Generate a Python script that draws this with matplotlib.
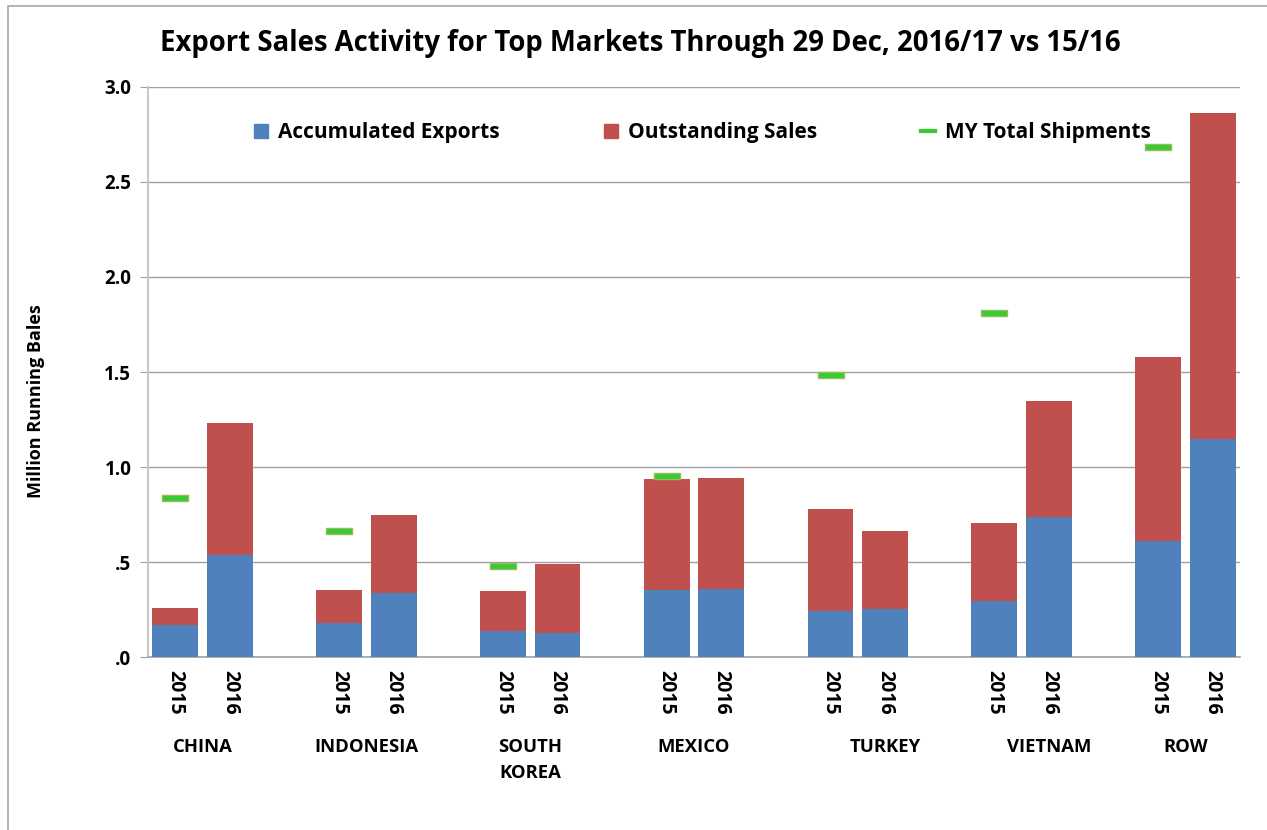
import matplotlib
matplotlib.use("Agg")
import matplotlib.pyplot as plt
import numpy as np
from matplotlib.patches import Patch, Rectangle
from matplotlib.lines import Line2D
from matplotlib.path import Path
import matplotlib.transforms as mtransforms

plt.rcParams['font.family'] = ['Open Sans', 'DejaVu Sans']
plt.rcParams['font.weight'] = 'bold'

# data (million running bales)
markets = ['CHINA', 'INDONESIA', 'SOUTH\nKOREA', 'MEXICO', 'TURKEY', 'VIETNAM', 'ROW']
years = ['2015', '2016']
exports_2015 = [0.168, 0.179, 0.137, 0.353, 0.242, 0.295, 0.611]
exports_2016 = [0.537, 0.337, 0.126, 0.358, 0.253, 0.737, 1.147]
outstanding_2015 = [0.090, 0.174, 0.210, 0.584, 0.537, 0.410, 0.968]
outstanding_2016 = [0.695, 0.410, 0.363, 0.584, 0.410, 0.610, 1.716]
my_total_2015 = [0.837, 0.663, 0.479, 0.953, 1.484, 1.811, 2.684]
# label offsets (slot units) as placed in the original
label_offset = [0.5, 0.5, 0.5, 0.5, 1.0, 1.0, 0.5]

blue = '#4F81BD'
red = '#C0504D'
green = '#33CC33'

fig = plt.figure(figsize=(12.67, 8.30), dpi=100)
ax = fig.add_axes([0.1168, 0.2084, 0.9787 - 0.1168, 0.8952 - 0.2084])

# outer chart border
fig.patches.append(Rectangle((8 / 1267, -0.1), 1.2, (830 - 6) / 830 + 0.1,
                             transform=fig.transFigure, fill=False,
                             edgecolor='#A6A6A6', linewidth=1.2))

x15 = np.arange(len(markets)) * 3
x16 = x15 + 1
w = 0.84

ax.bar(x15, exports_2015, w, color=blue, zorder=3)
ax.bar(x15, outstanding_2015, w, bottom=exports_2015, color=red, zorder=3)
ax.bar(x16, exports_2016, w, color=blue, zorder=3)
ax.bar(x16, outstanding_2016, w, bottom=exports_2016, color=red, zorder=3)

rect = Path([(-1, -0.22), (1, -0.22), (1, 0.22), (-1, 0.22), (-1, -0.22)],
            [Path.MOVETO, Path.LINETO, Path.LINETO, Path.LINETO, Path.CLOSEPOLY])
ax.plot(x15, my_total_2015, linestyle='none', marker=rect, markersize=19,
        markerfacecolor=green, markeredgecolor='#9BBB59', markeredgewidth=1, zorder=4)

ax.set_xlim(-0.5, 19.5)
ax.set_ylim(0, 3.0)
ax.set_yticks(np.arange(0, 3.01, 0.5))
ax.set_yticklabels(['.0', '.5', '1.0', '1.5', '2.0', '2.5', '3.0'], fontsize=13.5, fontweight='bold')
ax.yaxis.grid(True, color='#A0A0A0', linewidth=1, zorder=0)
ax.set_axisbelow(True)

xt = np.sort(np.concatenate([x15, x16]))
ax.set_xticks(xt)
ax.set_xticklabels(years * len(markets), rotation=270, fontsize=14, fontweight='bold')
ax.tick_params(axis='x', length=0, pad=9)
ax.tick_params(axis='y', length=6, color='#A0A0A0', direction='out', pad=6)

for s in ['top', 'right']:
    ax.spines[s].set_visible(False)
ax.spines['left'].set_color('#C8C8C8')
ax.spines['left'].set_linewidth(1.5)
ax.spines['bottom'].set_color('#A0A0A0')
ax.spines['bottom'].set_linewidth(1.2)

trans = mtransforms.blended_transform_factory(ax.transData, ax.transAxes)
for xi, name, off in zip(x15, markets, label_offset):
    ax.text(xi + off, -0.142, name, transform=trans, ha='center', va='top',
            fontsize=13.3, fontweight='bold', linespacing=1.6)

ax.set_ylabel('Million Running Bales', fontsize=13, fontweight='bold')
ax.yaxis.set_label_coords(-0.094, 0.449)

fig.suptitle('Export Sales Activity for Top Markets Through 29 Dec, 2016/17 vs 15/16',
             x=0.505, y=0.965, fontsize=19.8, fontweight='bold')

handles = [Patch(color=blue), Patch(color=red), Line2D([], [], color=green, linewidth=3)]
ax.legend(handles, ['Accumulated Exports', 'Outstanding Sales', 'MY Total Shipments'],
          loc='center', bbox_to_anchor=(0.508, 0.92), ncol=3, frameon=False,
          prop={'size': 15, 'weight': 'bold'}, handlelength=0.65, handleheight=0.65,
          columnspacing=5.0, handletextpad=0.5)

fig.savefig('out.png', dpi=100)
